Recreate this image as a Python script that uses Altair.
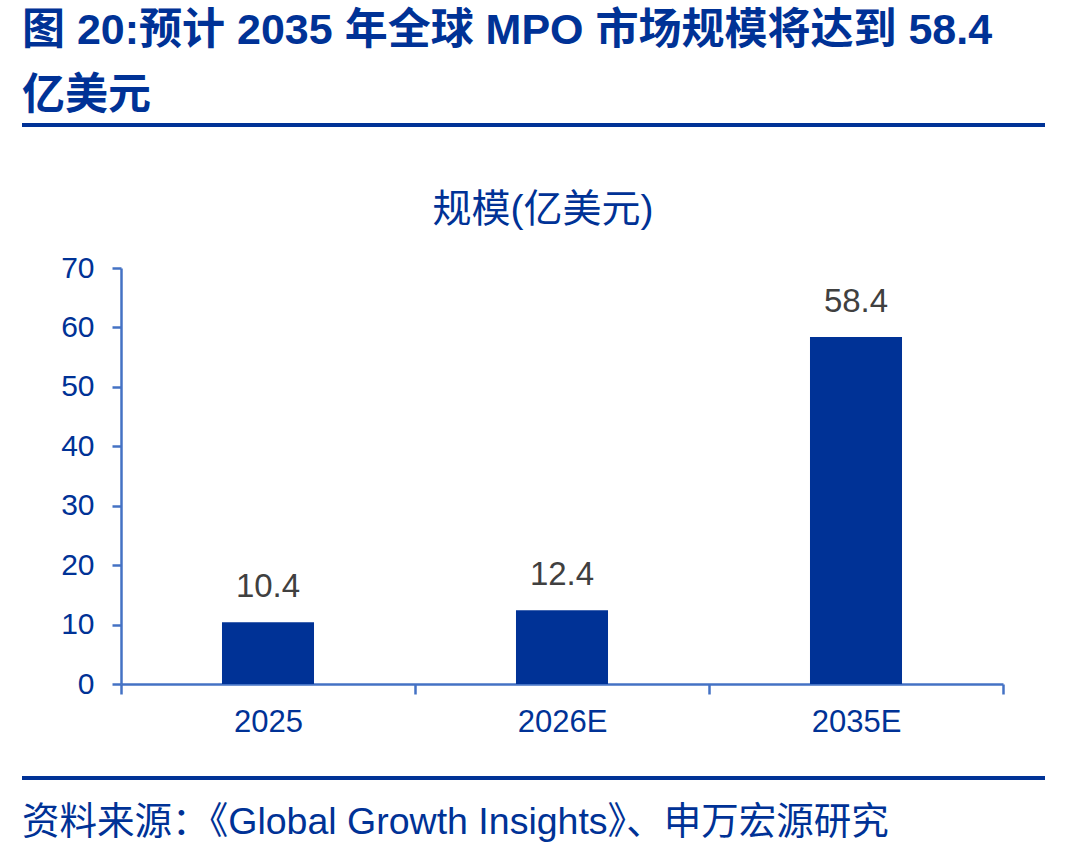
import altair as alt
import pandas as pd

# Market size data (hundred-million USD)
years = ["2025", "2026E", "2035E"]
values = [10.4, 12.4, 58.4]
value_labels = ["10.4", "12.4", "58.4"]

title_line1 = "图 20:预计 2035 年全球 MPO 市场规模将达到 58.4"
title_line2 = "亿美元"
subtitle = "规模(亿美元)"
source = "资料来源：《Global Growth Insights》、申万宏源研究"

DARK_BLUE = "#003296"
AXIS_BLUE = "#4472C4"
FONT = "Liberation Sans, Arial, Noto Sans CJK SC"
CJK_BOLD = "Liberation Sans, Noto Sans CJK SC"

df = pd.DataFrame({"year": years, "value": values, "label": value_labels})

PLOT_W, PLOT_H = 882, 416
LEFT, TOP = 121, 268

x_enc = alt.X(
    "year:N",
    sort=years,
    title=None,
    scale=alt.Scale(paddingInner=0, paddingOuter=0),
    axis=alt.Axis(
        tickBand="extent",
        domainColor=AXIS_BLUE,
        domainWidth=2.5,
        tickColor=AXIS_BLUE,
        tickWidth=2.5,
        tickSize=10,
        labelAngle=0,
        labelColor=DARK_BLUE,
        labelFont=FONT,
        labelFontSize=31,
        labelPadding=13,
        grid=False,
    ),
)

y_enc = alt.Y(
    "value:Q",
    title=None,
    scale=alt.Scale(domain=[0, 70], nice=False),
    axis=alt.Axis(
        values=[0, 10, 20, 30, 40, 50, 60, 70],
        domainColor=AXIS_BLUE,
        domainWidth=2.5,
        tickColor=AXIS_BLUE,
        tickWidth=2.5,
        tickSize=9,
        labelColor=DARK_BLUE,
        labelFont=FONT,
        labelFontSize=30,
        labelPadding=18,
        grid=False,
    ),
)

base = alt.Chart(df)

bars = base.mark_bar(color=DARK_BLUE, width=alt.RelativeBandSize(0.313)).encode(x=x_enc, y=y_enc)

labels = base.mark_text(
    dy=-25, font=FONT, fontSize=33, color="#404040", baseline="alphabetic"
).encode(x=alt.X("year:N", sort=years), y="value:Q", text="label:N")

one = alt.Data(values=[{}])


def text_mark(txt, x, y, size, bold=False, align="left"):
    return alt.Chart(one).mark_text(
        font=CJK_BOLD if bold else FONT,
        fontSize=size,
        fontWeight="bold" if bold else "normal",
        color=DARK_BLUE,
        align=align,
        baseline="alphabetic",
    ).encode(x=alt.value(x), y=alt.value(y), text=alt.value(txt))


def hline(y, x0, x1):
    return alt.Chart(one).mark_rule(color=DARK_BLUE, strokeWidth=4).encode(
        x=alt.value(x0), x2=alt.value(x1), y=alt.value(y)
    )


header1 = text_mark(title_line1, 22 - LEFT, 44 - TOP, 43, bold=True)
header2 = text_mark(title_line2, 22 - LEFT, 109 - TOP, 43, bold=True)
rule_top = hline(125 - TOP, 22 - LEFT, 1045 - LEFT)
sub = text_mark(subtitle, 543 - LEFT, 222 - TOP, 39, align="center")
rule_bottom = hline(778 - TOP, 22 - LEFT, 1045 - LEFT)
src = text_mark(source, 22 - LEFT, 834 - TOP, 37.5)

chart = (
    alt.layer(bars, labels, header1, header2, rule_top, sub, rule_bottom, src)
    .properties(
        width=PLOT_W,
        height=PLOT_H,
        autosize=alt.AutoSizeParams(type="none"),
        padding={"left": LEFT, "top": TOP, "right": 1090 - LEFT - PLOT_W, "bottom": 854 - TOP - PLOT_H},
        background="white",
    )
    .configure_view(stroke=None)
)

chart.save("out.html", embed_options={"renderer": "svg", "actions": False})
